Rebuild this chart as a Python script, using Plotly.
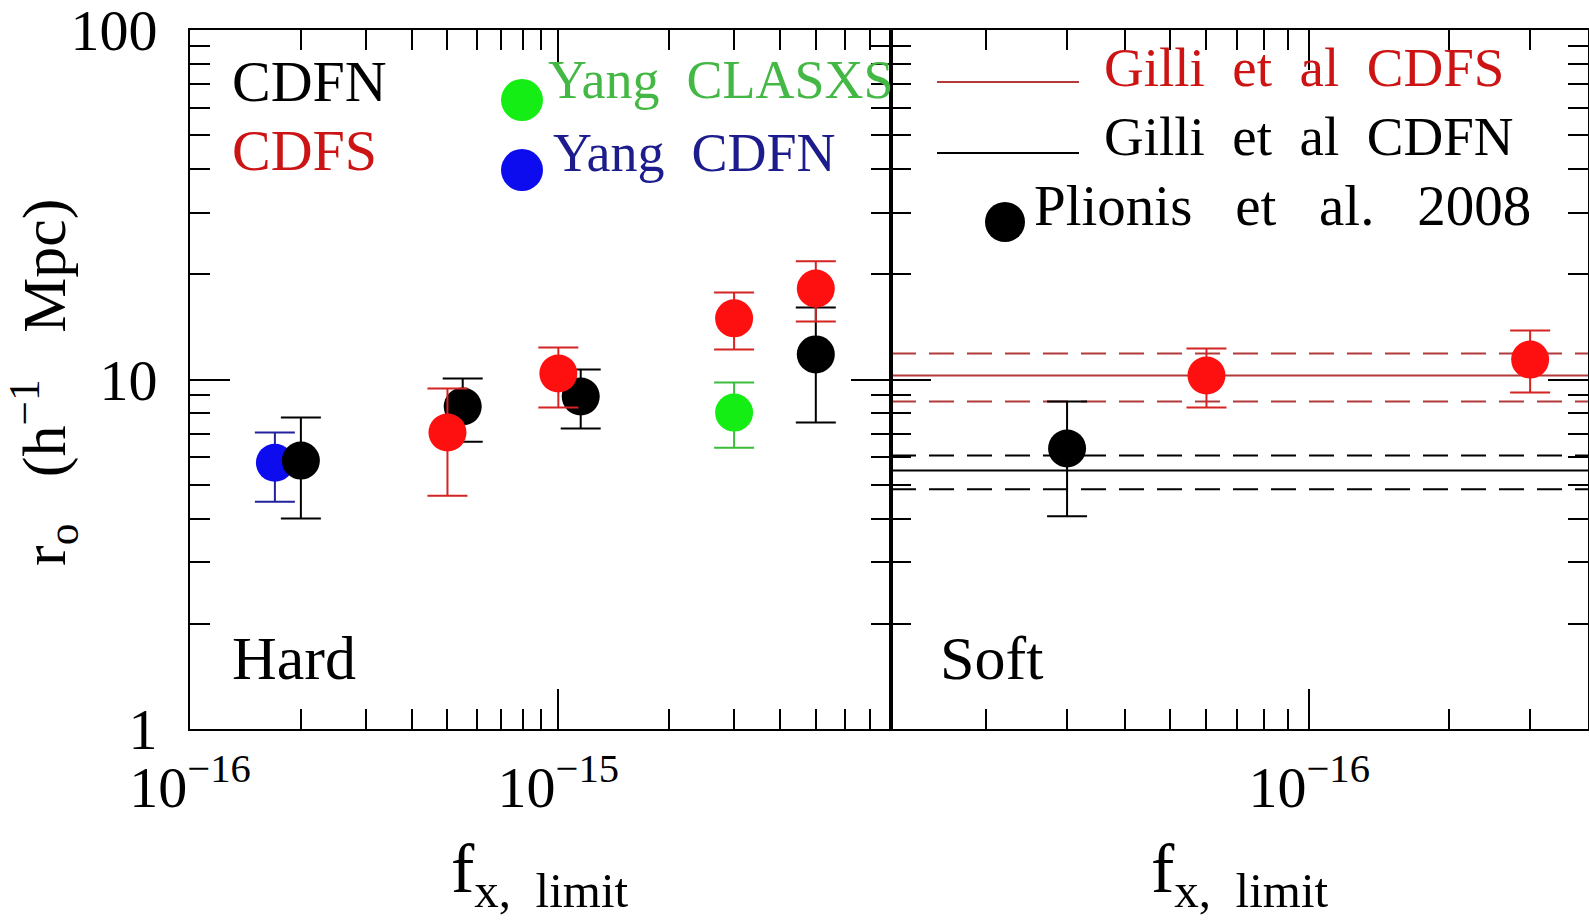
import math
import plotly.graph_objects as go

W, H = 1589, 921

# ---------------- data ----------------
# Hard band (left panel)
hard_cdfn_x = [2.0e-16, 5.5e-16, 1.15e-15, 5.0e-15]
hard_cdfn_y = [5.86, 8.37, 8.94, 11.8]
hard_cdfn_hi = [7.78, 10.07, 10.68, 16.07]
hard_cdfn_lo = [4.00, 6.64, 7.24, 7.53]

hard_cdfs_x = [5.0e-16, 1.0e-15, 3.0e-15, 5.0e-15]
hard_cdfs_y = [7.05, 10.4, 14.96, 18.2]
hard_cdfs_hi = [9.42, 12.35, 17.74, 21.8]
hard_cdfs_lo = [4.65, 8.31, 12.19, 14.66]

yang_clasxs_x = [3.0e-15]
yang_clasxs_y = [8.04]
yang_clasxs_hi = [9.8]
yang_clasxs_lo = [6.38]

yang_cdfn_x = [1.7e-16]
yang_cdfn_y = [5.78]
yang_cdfn_hi = [7.05]
yang_cdfn_lo = [4.47]

# Soft band (right panel)
soft_cdfn_x = [3.0e-17]
soft_cdfn_y = [6.35]
soft_cdfn_hi = [8.65]
soft_cdfn_lo = [4.06]

soft_cdfs_x = [6.0e-17, 3.0e-16]
soft_cdfs_y = [10.27, 11.4]
soft_cdfs_hi = [12.27, 13.8]
soft_cdfs_lo = [8.32, 9.18]

# Gilli et al. reference values (value, lower, upper)
gilli_cdfs = [10.27, 8.65, 11.87]
gilli_cdfn = [5.49, 4.85, 6.06]

# axis ranges / ticks
hard_xrange = [1e-16, 8e-15]
soft_xrange = [1.25e-17, 4e-16]
y_range = [1, 100]
hard_xticks = [1e-16, 1e-15]
hard_xticktext = ["10<sup>\u221216</sup>", "10<sup>\u221215</sup>"]
soft_xticks = [1e-16]
soft_xticktext = ["10<sup>\u221216</sup>"]
y_ticks = [1, 10, 100]
y_ticktext = ["1", "10", "100"]

FONT = "Liberation Serif"
RED = "#ff1010"
RED_BAR = "#d42424"
RED_TXT = "#cc1414"
RED_LINE = "#b23a3a"
GREEN = "#14ee14"
GREEN_BAR = "#3cbc3c"
GREEN_TXT = "#44b844"
BLUE = "#0c0cee"
BLUE_BAR = "#22229c"
BLUE_TXT = "#1c1c8c"
BLACK = "#000000"

MS = 38


def pts(x, y, hi, lo, color, barcolor, xa, ya):
    return go.Scatter(
        x=x, y=y, mode="markers", xaxis=xa, yaxis=ya, showlegend=False,
        marker=dict(size=MS, color=color, line=dict(width=0)),
        error_y=dict(type="data", symmetric=False,
                     array=[h - v for h, v in zip(hi, y)],
                     arrayminus=[v - l for v, l in zip(y, lo)],
                     color=barcolor, thickness=2, width=20),
    )


fig = go.Figure()
fig.add_trace(pts(yang_cdfn_x, yang_cdfn_y, yang_cdfn_hi, yang_cdfn_lo, BLUE, BLUE_BAR, "x", "y"))
fig.add_trace(pts(hard_cdfn_x, hard_cdfn_y, hard_cdfn_hi, hard_cdfn_lo, BLACK, BLACK, "x", "y"))
fig.add_trace(pts(hard_cdfs_x, hard_cdfs_y, hard_cdfs_hi, hard_cdfs_lo, RED, RED_BAR, "x", "y"))
fig.add_trace(pts(yang_clasxs_x, yang_clasxs_y, yang_clasxs_hi, yang_clasxs_lo, GREEN, GREEN_BAR, "x", "y"))
fig.add_trace(pts(soft_cdfn_x, soft_cdfn_y, soft_cdfn_hi, soft_cdfn_lo, BLACK, BLACK, "x2", "y2"))
fig.add_trace(pts(soft_cdfs_x, soft_cdfs_y, soft_cdfs_hi, soft_cdfs_lo, RED, RED_BAR, "x2", "y2"))

# Gilli horizontal lines in the soft panel
for vals, col in ((gilli_cdfs, RED_LINE), (gilli_cdfn, BLACK)):
    for i, v in enumerate(vals):
        fig.add_shape(type="line", xref="x2 domain", yref="y2", x0=0, x1=1, y0=v, y1=v,
                      line=dict(color=col, width=2, dash="solid" if i == 0 else "25px,13px"),
                      layer="below")


def minor_vals(lo, hi):
    out = []
    e = math.floor(math.log10(lo))
    while 10 ** e <= hi:
        for m in range(2, 10):
            v = m * 10 ** e
            if lo < v < hi * 0.999:
                out.append(v)
        e += 1
    return out


axis_common = dict(
    type="log", showline=True, linecolor=BLACK, linewidth=2, mirror="allticks",
    ticks="inside", ticklen=40, tickwidth=2, tickcolor=BLACK,
    showgrid=False, zeroline=False, automargin=False, ticklabeloverflow="allow",
    tickfont=dict(family=FONT, size=58, color=BLACK),
)

x0p, xmid, x1p = 190 / W, 891 / W, 1588 / W
ytop, ybot = 30, 729
ydom = [1 - ybot / H, 1 - ytop / H]

yr = [math.log10(y_range[0]), math.log10(y_range[1]) + 1e-6]

fig.update_layout(
    width=W, height=H, margin=dict(l=0, r=0, t=0, b=0, pad=0, autoexpand=False),
    paper_bgcolor="white", plot_bgcolor="white", showlegend=False,
    xaxis=dict(axis_common, domain=[x0p, xmid], anchor="y",
               range=[math.log10(hard_xrange[0]) - 1e-6, math.log10(hard_xrange[1])],
               tickmode="array", tickvals=hard_xticks, ticktext=hard_xticktext,
               ticklabelstandoff=6,
               minor=dict(ticks="inside", ticklen=20, tickwidth=2, tickcolor=BLACK,
                          tickmode="array", tickvals=minor_vals(*hard_xrange), showgrid=False)),
    xaxis2=dict(axis_common, domain=[xmid, x1p], anchor="y2",
                range=[math.log10(v) for v in soft_xrange],
                tickmode="array", tickvals=soft_xticks, ticktext=soft_xticktext,
                ticklabelstandoff=6,
                minor=dict(ticks="inside", ticklen=20, tickwidth=2, tickcolor=BLACK,
                           tickmode="array", tickvals=minor_vals(*soft_xrange), showgrid=False)),
    yaxis=dict(axis_common, domain=ydom, anchor="x",
               range=[yr[0] - 1e-6, yr[1]],
               tickmode="array", tickvals=y_ticks, ticktext=y_ticktext,
               ticklabelstandoff=19,
               minor=dict(ticks="inside", ticklen=20, tickwidth=2, tickcolor=BLACK,
                          tickmode="array", tickvals=minor_vals(*y_range), showgrid=False)),
    yaxis2=dict(axis_common, domain=ydom, anchor="x2", matches="y",
                range=[yr[0] - 1e-6, yr[1]], showticklabels=False,
                tickmode="array", tickvals=y_ticks,
                minor=dict(ticks="inside", ticklen=20, tickwidth=2, tickcolor=BLACK,
                           tickmode="array", tickvals=minor_vals(*y_range), showgrid=False)),
)


def ann(text, xp, yp, size=58, color=BLACK, xanchor="left", angle=0):
    fig.add_annotation(text=text, x=xp / W, y=1 - yp / H, xref="paper", yref="paper",
                       xanchor=xanchor, yanchor="middle", showarrow=False, textangle=angle,
                       font=dict(family=FONT, size=size, color=color))


def dot(cx, cy, r, color):
    fig.add_shape(type="circle", xref="paper", yref="paper",
                  x0=(cx - r) / W, x1=(cx + r) / W, y0=1 - (cy + r) / H, y1=1 - (cy - r) / H,
                  fillcolor=color, line=dict(width=0))


def seg(xa, xb, y, color):
    fig.add_shape(type="line", xref="paper", yref="paper",
                  x0=xa / W, x1=xb / W, y0=1 - y / H, y1=1 - y / H,
                  line=dict(color=color, width=2))


NB = "\u00a0"
# left panel labels
ann("CDFN", 230, 81)
ann("CDFS", 230, 151, color=RED_TXT)
dot(522, 100, 21, GREEN)
ann("Yang" + NB * 2 + "CLASXS", 546, 80, size=54, color=GREEN_TXT)
dot(522, 170, 21, BLUE)
ann("Yang" + NB * 2 + "CDFN", 551, 153, size=54, color=BLUE_TXT)
ann("Hard", 230, 658, size=62)

# right panel labels
seg(937, 1079, 82, RED_LINE)
ann("Gilli" + NB * 2 + "et" + NB * 2 + "al" + NB * 2 + "CDFS", 1102, 67, size=55, color=RED_TXT)
seg(937, 1079, 153, BLACK)
ann("Gilli" + NB * 2 + "et" + NB * 2 + "al" + NB * 2 + "CDFN", 1102, 136, size=55)
dot(1005, 222, 20, BLACK)
ann("Plionis" + NB * 3 + "et" + NB * 3 + "al." + NB * 3 + "2008", 1032, 205, size=57)
ann("Soft", 938, 658, size=62)

# axis titles
ann("r<sub>o</sub>" + NB * 3 + "(h<sup>\u22121</sup>" + NB * 3 + "Mpc)", 44, 383, size=62,
    xanchor="center", angle=-90)
ann("f<sub>x," + NB * 2 + "limit</sub>", 540, 874, size=70, xanchor="center")
ann("f<sub>x," + NB * 2 + "limit</sub>", 1240, 874, size=70, xanchor="center")

fig.write_html("out.html")
